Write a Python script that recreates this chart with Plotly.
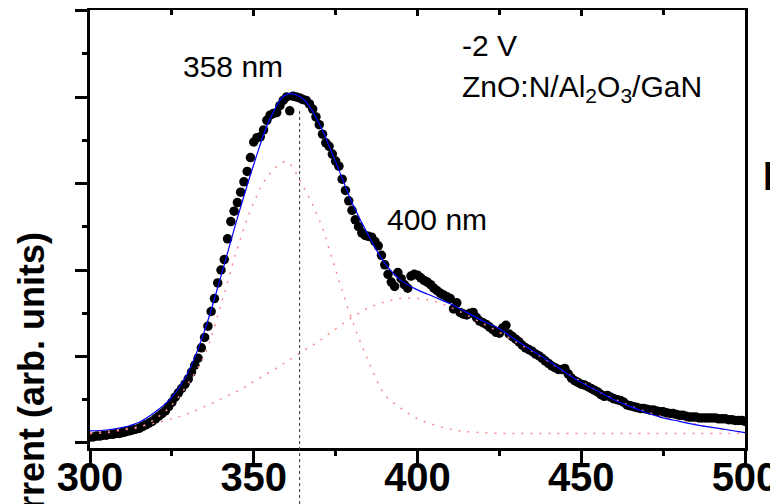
import plotly.graph_objects as go

# ---------------- data ----------------
wavelength = list(range(300, 501))  # nm, measured points (1 nm step)
current = [
    0.07, 0.07, 0.08, 0.08, 0.09, 0.09, 0.10, 0.10, 0.11, 0.11,
    0.12, 0.13, 0.14, 0.15, 0.16, 0.17, 0.19, 0.21, 0.23, 0.25,
    0.28, 0.31, 0.34, 0.37, 0.42, 0.47, 0.53, 0.58, 0.63, 0.68,
    0.74, 0.82, 0.90, 0.98, 1.10, 1.22, 1.35, 1.52, 1.67, 1.85,
    2.00, 2.12, 2.36, 2.56, 2.68, 2.78, 2.90, 3.02, 3.14, 3.30,
    3.48, 3.53, 3.54, 3.62, 3.73, 3.79, 3.81, 3.82, 3.90, 3.96,
    4.00, 3.84, 4.01, 4.00, 3.99, 3.97, 3.96, 3.92, 3.86, 3.77,
    3.68, 3.57, 3.47, 3.43, 3.34, 3.26, 3.20, 3.05, 2.92, 2.80,
    2.69, 2.58, 2.50, 2.43, 2.40, 2.39, 2.38, 2.33, 2.28, 2.17,
    2.06, 1.95, 1.86, 1.81, 1.97, 1.90, 1.83, 1.79, 1.93, 1.95,
    1.94, 1.91, 1.88, 1.86, 1.83, 1.79, 1.76, 1.73, 1.71, 1.69,
    1.67, 1.55, 1.62, 1.51, 1.49, 1.48, 1.50, 1.51, 1.45, 1.41,
    1.39, 1.37, 1.34, 1.31, 1.28, 1.27, 1.33, 1.36, 1.26, 1.23,
    1.20, 1.17, 1.13, 1.10, 1.08, 1.06, 1.03, 1.01, 0.98, 0.95,
    0.92, 0.89, 0.87, 0.85, 0.85, 0.86, 0.80, 0.75, 0.72, 0.70,
    0.68, 0.67, 0.65, 0.63, 0.61, 0.59, 0.56, 0.54, 0.55, 0.53,
    0.51, 0.50, 0.49, 0.47, 0.44, 0.43, 0.42, 0.41, 0.40, 0.40,
    0.39, 0.38, 0.38, 0.37, 0.36, 0.36, 0.35, 0.34, 0.34, 0.33,
    0.32, 0.32, 0.31, 0.30, 0.30, 0.30, 0.29, 0.29, 0.29, 0.29,
    0.29, 0.29, 0.28, 0.28, 0.28, 0.27, 0.27, 0.26, 0.26, 0.26,
    0.25,
]

fit_wavelength = list(range(300, 501, 5))
fit_total = [
    0.14, 0.15, 0.18, 0.24, 0.36, 0.53, 0.82, 1.30, 1.93, 2.60,
    3.22, 3.75, 4.03, 3.98, 3.69, 3.25, 2.78, 2.40, 2.08, 1.88,
    1.77, 1.69, 1.61, 1.51, 1.41, 1.32, 1.19, 1.07, 0.95, 0.82,
    0.70, 0.60, 0.50, 0.42, 0.35, 0.29, 0.25, 0.21, 0.18, 0.15,
    0.12,
]
peak_358 = [
    0.11, 0.12, 0.15, 0.18, 0.28, 0.44, 0.69, 1.02, 1.60, 2.25,
    2.78, 3.12, 3.25, 2.97, 2.58, 2.00, 1.42, 0.95, 0.56, 0.40,
    0.28, 0.21, 0.16, 0.13, 0.12, 0.11, 0.11, 0.11, 0.11, 0.11,
    0.11, 0.11, 0.11, 0.11, 0.11, 0.11, 0.11, 0.11, 0.11, 0.11,
    0.11,
]
peak_400 = [
    0.12, 0.14, 0.16, 0.19, 0.23, 0.28, 0.34, 0.42, 0.51, 0.60,
    0.71, 0.82, 0.94, 1.06, 1.18, 1.32, 1.45, 1.56, 1.63, 1.67,
    1.67, 1.64, 1.57, 1.48, 1.38, 1.28, 1.17, 1.06, 0.94, 0.82,
    0.71, 0.60, 0.51, 0.43, 0.36, 0.30, 0.26, 0.22, 0.18, 0.15,
    0.12,
]
peak_line_x = 364

x_ticks = [300, 350, 400, 450, 500]
x_tick_labels = ["300", "350", "400", "450", "500"]

FONT = "Liberation Sans, Arial, sans-serif"
NARROW = "Liberation Sans Narrow, Arial Narrow, Liberation Sans, sans-serif"

fig = go.Figure()

fig.add_trace(go.Scatter(
    x=wavelength, y=current, mode="markers",
    marker=dict(color="black", size=9.5, line=dict(width=0)),
    showlegend=False, hoverinfo="skip",
))
for comp in (peak_358, peak_400):
    fig.add_trace(go.Scatter(
        x=fit_wavelength, y=comp, mode="lines",
        line=dict(color="#ff8a8a", width=1.5, dash="2px,7px", shape="spline", smoothing=1),
        showlegend=False, hoverinfo="skip",
    ))
fig.add_trace(go.Scatter(
    x=fit_wavelength, y=fit_total, mode="lines",
    line=dict(color="#0000ff", width=1.2, shape="spline", smoothing=1),
    showlegend=False, hoverinfo="skip",
))
# invisible trace to carry the top axis
fig.add_trace(go.Scatter(x=[300, 500], y=[0, 0], xaxis="x2", mode="markers",
                         marker=dict(opacity=0), showlegend=False, hoverinfo="skip"))

fig.add_shape(type="line", xref="x", yref="paper",
              x0=peak_line_x, x1=peak_line_x, y0=-0.128, y1=0.776,
              line=dict(color="#333333", width=1, dash="dot"))

fig.update_layout(
    width=778, height=504,
    margin=dict(l=82, r=41, t=2, b=64, autoexpand=False),
    paper_bgcolor="white", plot_bgcolor="white",
    font=dict(family=FONT, color="black"),
    xaxis=dict(
        range=[300, 500], showgrid=False, zeroline=False, automargin=False,
        showline=True, linecolor="black", linewidth=3, mirror=True,
        ticks="outside", ticklen=12, tickwidth=2.5, tickcolor="black",
        tickvals=x_ticks, ticktext=x_tick_labels, ticklabelstandoff=-20,
        ticklabeloverflow="allow",
        tickfont=dict(family=NARROW, size=40, color="black", weight="bold"),
        minor=dict(ticks="outside", ticklen=5, tickwidth=2.5, tickcolor="black",
                   tickvals=[325, 375, 425, 475]),
    ),
    xaxis2=dict(
        range=[300, 500], overlaying="x", side="top", showgrid=False, zeroline=False,
        automargin=False,
        showline=False, ticks="inside", ticklen=6, tickwidth=2.5, tickcolor="black",
        tickvals=x_ticks, showticklabels=False,
        minor=dict(ticks="inside", ticklen=5, tickwidth=2.5, tickcolor="black",
                   tickvals=[325, 375, 425, 475]),
    ),
    yaxis=dict(
        range=[-0.058, 5.006], showgrid=False, zeroline=False, automargin=False,
        showline=True, linecolor="black", linewidth=3, mirror=True,
        ticks="outside", ticklen=12, tickwidth=2.5, tickcolor="black",
        tickvals=[0, 1, 2, 3, 4, 5], showticklabels=False,
        minor=dict(ticks="outside", ticklen=5, tickwidth=2.5, tickcolor="black",
                   tickvals=[0.5, 1.5, 2.5, 3.5, 4.5]),
    ),
    showlegend=False,
)

ann_font = dict(family=FONT, size=30, color="black")
fig.add_annotation(x=343.6, y=4.35, xref="x", yref="y", text="358 nm", showarrow=False,
                   font=ann_font, xanchor="center", yanchor="middle")
fig.add_annotation(x=405.9, y=2.58, xref="x", yref="y", text="400 nm", showarrow=False,
                   font=ann_font, xanchor="center", yanchor="middle")
fig.add_annotation(x=413.0, y=4.59, xref="x", yref="y", text="-2 V", showarrow=False,
                   font=ann_font, xanchor="left", yanchor="middle")
fig.add_annotation(x=413.0, y=4.10, xref="x", yref="y",
                   text="ZnO:N/Al<sub>2</sub>O<sub>3</sub>/GaN", showarrow=False,
                   font=ann_font, xanchor="left", yanchor="middle")
fig.add_annotation(x=-0.090, y=0.121, xref="paper", yref="paper",
                   text="Current (arb. units)", textangle=-90, showarrow=False,
                   font=dict(family=FONT, size=36, color="black", weight="bold"),
                   xanchor="center", yanchor="middle")
fig.add_annotation(x=1.025, y=0.635, xref="paper", yref="paper", text="p",
                   showarrow=False,
                   font=dict(family=FONT, size=36, color="black", weight="bold"),
                   xanchor="left", yanchor="middle")

fig.write_html("out.html")
